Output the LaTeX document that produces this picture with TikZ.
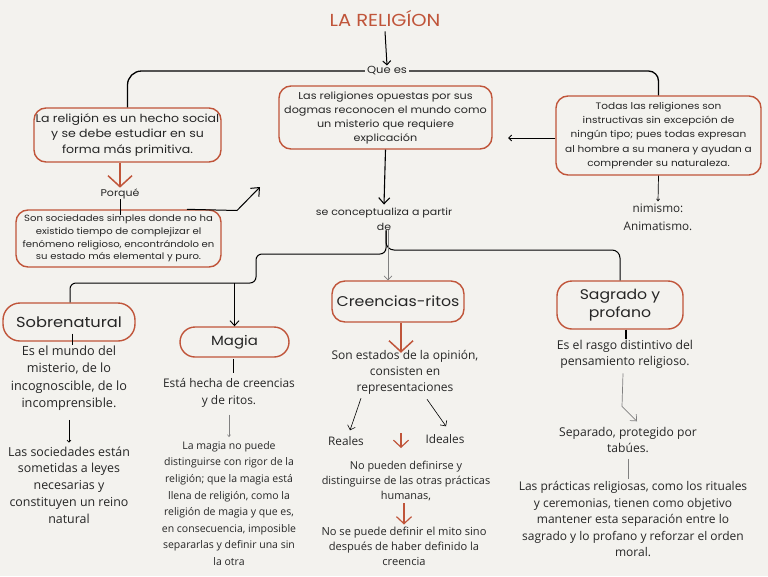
\documentclass[tikz,border=0pt]{standalone}
\usepackage{fontspec}
\setmainfont{Open Sans}
\newfontfamily\boxfont{Poppins}[FakeStretch=1.12]
\usetikzlibrary{arrows.meta,calc}
\definecolor{bg}{HTML}{F3F2EE}
\definecolor{rust}{HTML}{C0553A}
\definecolor{ink}{HTML}{262626}
\begin{document}
\begin{tikzpicture}[x=1pt,y=-1pt,
  every node/.style={text=ink, inner sep=0pt, align=center},
  rbox/.style={draw=rust, line width=1.4pt, rounded corners=12pt, fill=bg},
  conn/.style={draw=black, line width=1.3pt},
  thinl/.style={draw=black, line width=0.7pt},
  barb/.style={-{Straight Barb[length=4pt,width=8pt]}},
  rustarr/.style={draw=rust, line width=1.5pt, -{Straight Barb[length=11pt,width=24pt]}},
  body/.style={font=\fontsize{11}{16.7}\selectfont},
  lab/.style={font=\boxfont\fontsize{9.5}{15}\selectfont},
]
\fill[bg] (0,0) rectangle (768,576);
\useasboundingbox (0,0) rectangle (768,576);

% title
\node[font=\boxfont\fontsize{17.4}{20}\selectfont, text=rust] (title) at (385,18) {LA RELIGÍON};
\node[font=\boxfont\fontsize{10.3}{12}\selectfont, inner xsep=2pt] (quees) at (387,71) {Que es};

% top boxes
\node[rbox, minimum width=187pt, minimum height=54pt, font=\boxfont\fontsize{11.2}{15.5}\selectfont] (b1) at (127.5,135)
  {La religión es un hecho social\\y se debe estudiar en su\\forma más primitiva.};
\node[rbox, minimum width=213pt, minimum height=63pt, font=\boxfont\fontsize{10}{14}\selectfont] (b2) at (385.5,117.5)
  {Las religiones opuestas por sus\\dogmas reconocen el mundo como\\un misterio que requiere\\explicación};
\node[rbox, minimum width=205pt, minimum height=79pt, font=\boxfont\fontsize{9.4}{14.2}\selectfont] (b3) at (658.5,135.5)
  {Todas las religiones son\\instructivas sin excepción de\\ningún tipo; pues todas expresan\\al hombre a su manera y ayudan a\\comprender su naturaleza.};
\node[rbox, minimum width=205pt, minimum height=57pt, font=\boxfont\fontsize{9}{12.7}\selectfont] (b4) at (118.5,238.5)
  {Son sociedades simples donde no ha\\existido tiempo de complejizar el\\fenómeno religioso, encontrándolo en\\su estado más elemental y puro.};

\node[lab, font=\boxfont\fontsize{9.8}{15}\selectfont] (porque) at (120,194) {Porqué};
\node[lab, font=\boxfont\fontsize{9.8}{15}\selectfont] (concept) at (384,219) {se conceptualiza a partir\\de};
\node[font=\fontsize{11.7}{18}\selectfont] (nim) at (658,217) {nimismo:\\Animatismo.};

% second level boxes
\node[rbox, rounded corners=17pt, minimum width=132pt, minimum height=38pt, font=\boxfont\fontsize{14.5}{16}\selectfont] (sobre) at (69,322) {Sobrenatural};
\node[rbox, rounded corners=15pt, minimum width=109pt, minimum height=30pt, font=\boxfont\fontsize{13.3}{16}\selectfont] (magia) at (234.5,342) {Magia};
\node[rbox, rounded corners=13pt, minimum width=132pt, minimum height=41pt, font=\boxfont\fontsize{14.1}{16}\selectfont] (cre) at (398,301.5) {Creencias-ritos};
\node[rbox, rounded corners=15pt, minimum width=126pt, minimum height=48pt, font=\boxfont\fontsize{14}{17.5}\selectfont] (sagr) at (620,305) {Sagrado y\\profano};

% texts
\node[font=\fontsize{12.7}{17.5}\selectfont] (sobreT) at (69,378) {Es el mundo del\\misterio, de lo\\incognoscible, de lo\\incomprensible.};
\node[font=\fontsize{12.4}{16.7}\selectfont] (sobreT2) at (69,485) {Las sociedades están\\sometidas a leyes\\necesarias y\\constituyen un reino\\natural};
\node[font=\fontsize{11.9}{17}\selectfont] (magiaT1) at (229,393) {Está hecha de creencias\\y de ritos.};
\node[font=\fontsize{10.5}{16.6}\selectfont] (magiaT2) at (229,503.5) {La magia no puede\\distinguirse con rigor de la\\religión; que la magia está\\llena de religión, como la\\religión de magia y que es,\\en consecuencia, imposible\\separarlas y definir una sin\\la otra};
\node[font=\fontsize{12}{16}\selectfont] (creT1) at (405,372) {Son estados de la opinión,\\consisten en\\representaciones};
\node[font=\fontsize{11.8}{12}\selectfont] (reales) at (346,441) {Reales};
\node[font=\fontsize{11.8}{12}\selectfont] (ideales) at (445,439) {Ideales};
\node[font=\fontsize{10.9}{15}\selectfont] (creT2) at (406,481) {No pueden definirse y\\distinguirse de las otras prácticas\\humanas,};
\node[font=\fontsize{11.1}{15}\selectfont] (creT3) at (404,546) {No se puede definir el mito sino\\después de haber definido la\\creencia};
\node[font=\fontsize{12.2}{16}\selectfont] (sagT1) at (625,354) {Es el rasgo distintivo del\\pensamiento religioso.};
\node[font=\fontsize{12.1}{16}\selectfont] (sagT2) at (628,440) {Separado, protegido por\\tabúes.};
\node[font=\fontsize{12}{16.5}\selectfont] (sagT3) at (633,519) {Las prácticas religiosas, como los rituales\\y ceremonias, tienen como objetivo\\mantener esta separación entre lo\\sagrado y lo profano y reforzar el orden\\moral.};

% connectors top
\draw[conn, line width=1pt, barb] ($(title.south)+(0,5)$) -- ($(quees.north)+(0,-1)$);
\draw[conn, rounded corners=14pt] (quees.west) -| (b1.north);
\draw[conn, rounded corners=10pt] (quees.east) -| (b3.north);
\coordinate (a1) at (508,138);
\draw[conn, line width=1pt, -{Straight Barb[length=3pt,width=6pt]}] (b3.west |- a1) -- (a1);
\draw[thinl, -{Straight Barb[length=2pt,width=3pt]}] (b3.south) -- ($(nim.north)+(0,-2)$);
\draw[conn, line width=1.1pt, -{Straight Barb[length=6pt,width=11pt]}] (b2.south) -- ($(concept.north)+(0,-3)$);
\draw[rustarr] (porque.north |- b1.south) -- ($(porque.north)+(0,-1)$);
\draw[thinl, line width=1pt] (porque.south) -- ($(porque.south |- b4.north)+(0,6)$);
\coordinate (d0) at (237,210.5);
\coordinate (d1) at (260,187);
\draw[thinl, line width=1pt, -{Straight Barb[length=7pt,width=12pt]}] ($(b4.north)+(68.5,0)$) -- (d0) -- (d1);

% concept branches
\coordinate (k1) at (256,254);
\coordinate (k2) at (256,283);
\coordinate (k4) at (500,250);
\draw[thinl, line width=1pt, rounded corners=6pt] ($(concept.south)+(2,0)$) |- (k1) -- (k2) -| ($(sobre.north)+(1,0)$);
\draw[thinl, line width=1pt, rounded corners=8pt] ($(concept.south)+(2,0)$) |- (k4) -| (sagr.north);
\draw[thinl, line width=0.9pt, -{Straight Barb[length=5pt,width=9pt]}] (magia.north |- k2) -- (magia.north);
\draw[gray, line width=0.6pt, -{Straight Barb[length=4pt,width=8pt]}] ($(concept.south)+(4,0)$) -- ($(concept.south |- cre.north)+(4,0)$);

% sobrenatural
\draw[line width=1pt] ($(sobre.south)+(3,-8)$) -- ($(sobre.south)+(3,3)$);
\draw[thinl, -{Straight Barb[length=2pt,width=4pt]}] ($(sobreT.south)+(0,9)$) -- ($(sobreT2.north)+(0,-4)$);

% magia
\draw[line width=1pt] ($(magia.south)+(-1,1)$) -- ($(magia.south)+(-1,15)$);
\draw[gray, line width=0.6pt, -{Straight Barb[length=2pt,width=3pt]}] ($(magiaT1.south)+(0,7)$) -- ($(magiaT2.north)+(0,-4)$);

% creencias
\draw[rustarr] ($(cre.south)+(3,0)$) -- ($(creT1.north)+(-4,3)$);
\draw[thinl, line width=0.6pt, -{Straight Barb[length=4pt,width=8pt]}] ($(creT1.south)+(-44,4)$) -- ($(reales.north)+(4,-6)$);
\draw[thinl, line width=0.6pt, -{Straight Barb[length=4pt,width=8pt]}] ($(creT1.south)+(22,5)$) -- ($(ideales.north)+(1,-8)$);
\coordinate (r1) at (401,433);
\draw[draw=rust, line width=1.2pt, -{Straight Barb[length=7pt,width=15pt]}] (r1) -- ($(creT2.north |- r1)+(-5,15)$);
\draw[draw=rust, line width=1.2pt, -{Straight Barb[length=7pt,width=15pt]}] ($(creT2.south)+(-2,2)$) -- ($(creT3.north)+(0,-2)$);

% sagrado
\draw[line width=2pt] ($(sagr.south)+(6,0)$) -- ++(0,9);
\draw[gray, line width=0.7pt, -{Straight Barb[length=5pt,width=9pt]}] ($(sagT1.south)+(-2,5)$) -- ++(-1,33) -- ++(15,15);
\draw[gray, line width=0.7pt] ($(sagT2.south)+(0,6)$) -- ++(0,20);
\end{tikzpicture}
\end{document}
